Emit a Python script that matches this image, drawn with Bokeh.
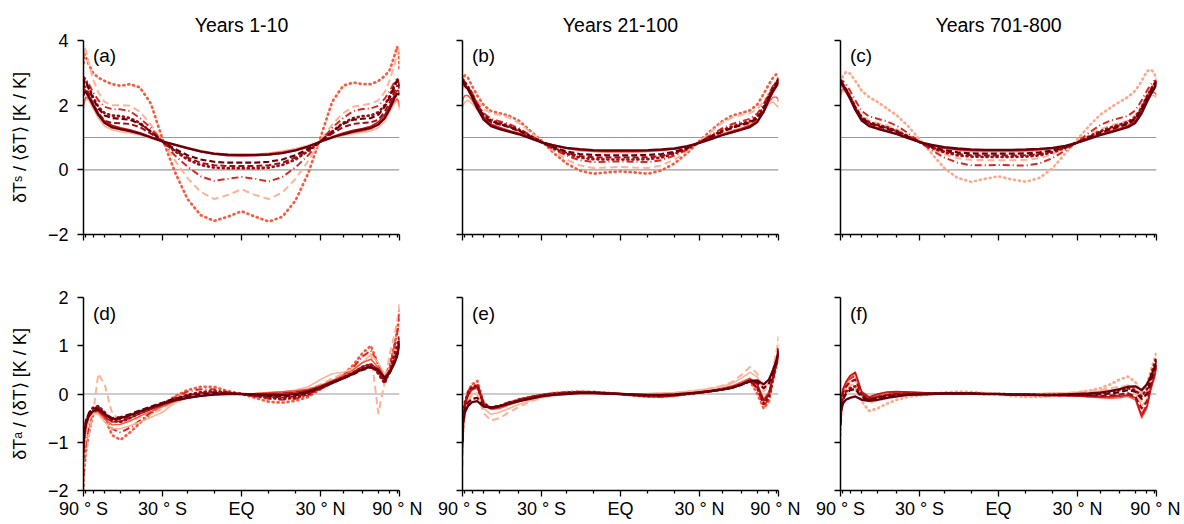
import numpy as np
from bokeh.plotting import figure
from bokeh.layouts import column, row
from bokeh.models import FixedTicker, Span, Label, CustomJSTickFormatter
from bokeh.embed import file_html
from bokeh.resources import INLINE

# ---------------- data ----------------
latitude = list(range(-90, 91, 5))
x_major_lat = [-90, -30, 0, 30, 90]
x_major_labels = ["90 ° S", "30 ° S", "EQ", "30 ° N", "90 ° N"]
x_minor_lat = [-80, -70, -60, -50, -40, -20, -10, 10, 20, 40, 50, 60, 70, 80]
top_yticks = [-2, 0, 2, 4]
bottom_yticks = [-2, -1, 0, 1, 2]
column_titles = ["Years 1-10", "Years 21-100", "Years 701-800"]
panel_letters = ["(a)", "(b)", "(c)", "(d)", "(e)", "(f)"]
surface_label = "δTˢ / ⟨δT⟩ [K / K]"
atmos_label = "δTᵃ / ⟨δT⟩ [K / K]"

# surface warming pattern, years 1-10 (10 runs)
ts_years_1_10 = [
    [2.3,2.4,2.4,2.25,2.0,1.7,1.45,1.32,1.26,1.2,1.12,1.0,0.88,0.78,0.67,0.57,0.5,0.47,0.46,0.46,0.48,0.52,0.6,0.72,0.87,1.0,1.1,1.18,1.24,1.3,1.4,1.6,1.9,2.2,2.35,2.35,2.3],
    [2.4,2.5,2.45,2.3,2.05,1.75,1.5,1.38,1.3,1.24,1.15,1.02,0.88,0.77,0.66,0.56,0.48,0.44,0.43,0.44,0.46,0.52,0.6,0.73,0.88,1.02,1.14,1.22,1.28,1.35,1.48,1.7,2.0,2.3,2.45,2.45,2.35],
    [2.0,2.1,2.25,2.2,2.0,1.7,1.45,1.3,1.24,1.2,1.12,1.0,0.87,0.77,0.68,0.58,0.5,0.46,0.45,0.46,0.5,0.55,0.62,0.73,0.87,1.0,1.1,1.16,1.2,1.26,1.38,1.6,1.9,2.1,2.2,2.1,1.95],
    [1.9,2.05,2.2,2.15,1.9,1.6,1.35,1.24,1.18,1.14,1.08,0.98,0.87,0.78,0.7,0.6,0.52,0.48,0.47,0.48,0.52,0.58,0.66,0.76,0.88,0.98,1.06,1.12,1.16,1.2,1.3,1.5,1.8,2.05,2.15,2.0,1.85],
    [2.6,2.75,2.7,2.5,2.2,1.9,1.68,1.6,1.58,1.55,1.42,1.18,0.88,0.65,0.45,0.32,0.25,0.22,0.22,0.22,0.25,0.32,0.45,0.65,0.88,1.18,1.42,1.55,1.58,1.6,1.7,1.95,2.25,2.55,2.75,2.7,2.6],
    [2.5,2.6,2.55,2.35,2.05,1.75,1.52,1.45,1.44,1.42,1.32,1.12,0.87,0.6,0.38,0.22,0.14,0.12,0.12,0.12,0.14,0.22,0.38,0.6,0.88,1.12,1.32,1.42,1.45,1.47,1.55,1.8,2.1,2.4,2.6,2.6,2.5],
    [2.7,2.85,2.75,2.55,2.25,1.95,1.75,1.68,1.66,1.6,1.45,1.18,0.87,0.58,0.32,0.15,0.07,0.05,0.05,0.05,0.07,0.15,0.32,0.58,0.88,1.18,1.45,1.6,1.66,1.68,1.78,2.0,2.3,2.6,2.8,2.75,2.6],
    [2.6,2.8,2.8,2.65,2.4,2.15,1.95,1.88,1.87,1.82,1.6,1.3,0.87,0.45,0.1,-0.2,-0.34,-0.28,-0.22,-0.28,-0.36,-0.22,0.08,0.45,0.88,1.3,1.6,1.82,1.88,1.9,1.98,2.2,2.45,2.7,2.8,2.7,2.5],
    [3.5,3.8,3.7,3.3,2.8,2.4,2.1,2.0,2.0,1.98,1.8,1.4,0.88,0.3,-0.25,-0.68,-0.9,-0.78,-0.6,-0.78,-0.9,-0.7,-0.28,0.28,0.9,1.4,1.75,1.95,2.0,2.05,2.15,2.4,2.8,3.2,3.6,3.7,3.9],
    [3.3,3.6,3.5,3.25,3.0,2.85,2.75,2.65,2.6,2.65,2.55,2.05,0.95,-0.05,-0.9,-1.4,-1.58,-1.45,-1.28,-1.45,-1.6,-1.45,-0.95,-0.1,1.0,2.1,2.6,2.7,2.65,2.65,2.75,2.9,3.1,3.5,3.8,3.6,3.1],
]

ts_years_21_100 = [
    [2.75,2.7,2.6,2.5,2.25,1.9,1.55,1.35,1.26,1.18,1.1,0.98,0.85,0.76,0.68,0.64,0.61,0.6,0.6,0.6,0.61,0.63,0.66,0.73,0.83,0.95,1.07,1.16,1.24,1.32,1.48,1.8,2.2,2.45,2.6,2.68,2.7],
    [2.7,2.72,2.62,2.5,2.28,1.95,1.6,1.4,1.3,1.2,1.12,0.99,0.85,0.76,0.67,0.62,0.59,0.58,0.58,0.58,0.59,0.61,0.65,0.72,0.83,0.96,1.08,1.18,1.27,1.36,1.5,1.78,2.15,2.4,2.55,2.62,2.62],
    [2.1,2.2,2.3,2.3,2.15,1.9,1.6,1.42,1.32,1.22,1.13,1.0,0.86,0.76,0.66,0.6,0.57,0.56,0.56,0.56,0.57,0.6,0.64,0.71,0.84,0.98,1.1,1.2,1.28,1.38,1.52,1.8,2.1,2.25,2.25,2.2,2.1],
    [1.95,2.0,2.1,2.15,2.05,1.85,1.58,1.4,1.3,1.22,1.14,1.01,0.87,0.77,0.67,0.6,0.56,0.54,0.54,0.54,0.56,0.6,0.65,0.73,0.86,1.0,1.12,1.22,1.3,1.4,1.55,1.8,2.05,2.1,2.0,1.95,2.0],
    [2.8,2.75,2.65,2.52,2.3,1.98,1.66,1.5,1.42,1.33,1.22,1.04,0.86,0.7,0.57,0.49,0.46,0.45,0.45,0.45,0.46,0.49,0.56,0.68,0.85,1.02,1.18,1.3,1.4,1.47,1.6,1.9,2.25,2.5,2.65,2.75,2.78],
    [2.7,2.7,2.62,2.5,2.28,1.96,1.63,1.47,1.4,1.32,1.2,1.03,0.86,0.68,0.53,0.43,0.39,0.38,0.38,0.38,0.39,0.43,0.52,0.66,0.85,1.02,1.18,1.3,1.38,1.45,1.58,1.88,2.22,2.48,2.62,2.7,2.72],
    [2.8,2.78,2.7,2.58,2.35,2.02,1.7,1.53,1.45,1.36,1.24,1.06,0.86,0.66,0.5,0.38,0.33,0.32,0.32,0.32,0.33,0.38,0.5,0.66,0.85,1.04,1.22,1.34,1.43,1.5,1.65,1.95,2.3,2.55,2.7,2.78,2.8],
    [2.75,2.8,2.72,2.6,2.38,2.06,1.75,1.58,1.5,1.42,1.28,1.08,0.86,0.63,0.44,0.3,0.24,0.25,0.26,0.25,0.24,0.3,0.44,0.63,0.86,1.08,1.28,1.42,1.5,1.58,1.74,2.04,2.36,2.6,2.75,2.8,2.75],
    [2.5,2.55,2.55,2.5,2.38,2.15,1.88,1.75,1.7,1.62,1.45,1.18,0.88,0.58,0.32,0.14,0.06,0.07,0.09,0.07,0.06,0.14,0.32,0.58,0.88,1.18,1.45,1.62,1.7,1.75,1.88,2.12,2.35,2.5,2.55,2.55,2.5],
    [2.6,2.85,2.92,2.85,2.6,2.3,2.0,1.82,1.75,1.68,1.52,1.22,0.9,0.52,0.2,-0.02,-0.12,-0.08,-0.05,-0.08,-0.12,-0.02,0.2,0.52,0.9,1.22,1.5,1.68,1.76,1.84,2.02,2.35,2.65,2.85,2.95,2.85,2.65],
]

ts_years_701_800 = [
    [2.75,2.7,2.6,2.45,2.2,1.85,1.52,1.35,1.27,1.19,1.1,0.98,0.86,0.77,0.7,0.66,0.63,0.62,0.62,0.62,0.63,0.65,0.68,0.74,0.84,0.96,1.07,1.16,1.24,1.32,1.45,1.75,2.1,2.35,2.5,2.6,2.7],
    [2.6,2.65,2.58,2.45,2.22,1.88,1.55,1.38,1.29,1.2,1.11,0.99,0.86,0.76,0.68,0.63,0.61,0.6,0.6,0.6,0.61,0.63,0.67,0.73,0.84,0.97,1.08,1.18,1.26,1.35,1.5,1.8,2.15,2.4,2.55,2.62,2.62],
    [2.3,2.45,2.5,2.42,2.2,1.88,1.56,1.39,1.3,1.21,1.12,1.0,0.86,0.75,0.67,0.62,0.59,0.58,0.58,0.58,0.59,0.62,0.66,0.72,0.84,0.98,1.1,1.2,1.28,1.37,1.52,1.82,2.15,2.35,2.4,2.35,2.3],
    [2.2,2.35,2.45,2.4,2.2,1.88,1.56,1.4,1.31,1.22,1.13,1.0,0.86,0.75,0.66,0.6,0.57,0.56,0.56,0.56,0.57,0.6,0.65,0.72,0.85,0.99,1.11,1.21,1.29,1.38,1.54,1.85,2.15,2.3,2.3,2.25,2.25],
    [2.8,2.75,2.65,2.5,2.26,1.92,1.6,1.44,1.36,1.27,1.17,1.02,0.86,0.72,0.61,0.54,0.51,0.5,0.5,0.5,0.51,0.54,0.6,0.7,0.85,1.0,1.14,1.25,1.34,1.42,1.58,1.88,2.22,2.45,2.6,2.7,2.75],
    [2.7,2.7,2.62,2.48,2.25,1.92,1.6,1.45,1.38,1.3,1.19,1.03,0.86,0.7,0.57,0.49,0.45,0.44,0.44,0.44,0.45,0.49,0.57,0.69,0.85,1.02,1.17,1.28,1.37,1.45,1.6,1.9,2.24,2.48,2.62,2.7,2.72],
    [2.75,2.72,2.64,2.5,2.27,1.94,1.62,1.47,1.4,1.32,1.2,1.04,0.86,0.68,0.54,0.45,0.41,0.4,0.4,0.4,0.41,0.45,0.54,0.68,0.85,1.03,1.19,1.31,1.4,1.48,1.63,1.93,2.27,2.5,2.65,2.72,2.75],
    [2.65,2.75,2.75,2.65,2.45,2.15,1.82,1.65,1.58,1.5,1.36,1.14,0.87,0.6,0.38,0.22,0.14,0.14,0.15,0.14,0.13,0.2,0.36,0.6,0.87,1.15,1.38,1.52,1.6,1.67,1.84,2.15,2.45,2.65,2.75,2.75,2.65],
    [2.7,2.72,2.66,2.54,2.32,2.0,1.68,1.52,1.45,1.37,1.25,1.07,0.86,0.65,0.48,0.36,0.31,0.3,0.3,0.3,0.31,0.36,0.48,0.65,0.86,1.07,1.25,1.37,1.45,1.52,1.68,2.0,2.32,2.54,2.66,2.72,2.7],
    [2.4,2.7,2.9,3.02,2.98,2.75,2.45,2.25,2.1,1.9,1.68,1.36,0.95,0.5,0.05,-0.25,-0.37,-0.28,-0.2,-0.3,-0.37,-0.25,0.05,0.5,0.95,1.36,1.7,1.92,2.1,2.25,2.45,2.75,3.05,3.1,3.0,2.85,2.7],
]

# atmospheric warming pattern
ta_years_1_10 = [
    [-1.1,-0.85,-0.6,-0.45,-0.35,-0.32,-0.42,-0.52,-0.5,-0.44,-0.36,-0.28,-0.2,-0.13,-0.08,-0.04,-0.01,0.0,0.0,-0.01,-0.02,-0.02,0.0,0.05,0.14,0.24,0.33,0.42,0.52,0.56,0.5,0.33,0.45,0.62,0.78,0.95,1.1],
    [-1.2,-0.95,-0.65,-0.46,-0.35,-0.35,-0.47,-0.58,-0.57,-0.5,-0.41,-0.32,-0.23,-0.14,-0.08,-0.04,-0.01,0.0,0.0,0.0,0.01,0.02,0.04,0.08,0.16,0.26,0.35,0.45,0.57,0.62,0.52,0.34,0.48,0.66,0.82,0.96,1.1],
    [-1.3,-1.0,-0.7,-0.48,-0.36,-0.38,-0.52,-0.64,-0.63,-0.56,-0.46,-0.36,-0.26,-0.15,-0.08,-0.04,-0.01,0.0,0.0,0.01,0.03,0.05,0.07,0.1,0.18,0.28,0.38,0.5,0.65,0.72,0.55,0.35,0.52,0.72,0.88,1.0,1.1],
    [-1.5,-1.2,-0.85,-0.55,-0.4,-0.42,-0.58,-0.72,-0.72,-0.66,-0.58,-0.48,-0.38,-0.18,-0.09,-0.04,-0.01,0.0,0.0,0.01,0.02,0.04,0.08,0.15,0.3,0.42,0.45,0.52,0.65,0.82,0.65,0.4,0.55,0.75,0.92,1.05,1.15],
    [-1.0,-0.8,-0.55,-0.4,-0.3,-0.3,-0.4,-0.5,-0.48,-0.42,-0.34,-0.26,-0.18,-0.1,-0.04,0.0,0.02,0.01,0.0,-0.02,-0.04,-0.05,-0.03,0.03,0.13,0.23,0.32,0.41,0.5,0.55,0.48,0.3,0.45,0.65,0.82,0.98,1.12],
    [-1.2,-0.9,-0.6,-0.42,-0.3,-0.28,-0.4,-0.53,-0.53,-0.46,-0.37,-0.28,-0.19,-0.1,-0.03,0.02,0.04,0.02,0.0,-0.03,-0.06,-0.07,-0.05,0.02,0.12,0.22,0.32,0.42,0.52,0.58,0.45,0.25,0.45,0.7,0.9,1.05,1.15],
    [-1.3,-0.9,-0.6,-0.4,-0.28,-0.25,-0.38,-0.55,-0.58,-0.5,-0.4,-0.3,-0.2,-0.1,-0.02,0.04,0.06,0.03,0.0,-0.04,-0.08,-0.1,-0.08,0.0,0.12,0.23,0.34,0.45,0.56,0.62,0.42,0.22,0.5,0.8,1.0,1.15,1.25],
    [-1.7,-1.4,-1.0,-0.65,-0.35,-0.25,-0.45,-0.72,-0.8,-0.7,-0.55,-0.38,-0.22,-0.07,0.05,0.1,0.1,0.04,0.0,-0.05,-0.1,-0.12,-0.1,-0.03,0.1,0.24,0.38,0.55,0.78,0.9,0.62,0.35,0.6,0.95,1.25,1.5,1.7],
    [-1.8,-1.5,-1.2,-0.85,-0.4,0.42,0.2,-0.4,-0.55,-0.55,-0.48,-0.42,-0.3,-0.15,-0.05,0.02,0.03,0.02,0.0,0.0,0.02,0.04,0.06,0.1,0.2,0.32,0.42,0.55,0.78,0.85,-0.4,0.25,0.85,1.2,1.5,1.75,1.9],
    [-1.9,-1.6,-1.2,-0.8,-0.45,-0.25,-0.5,-0.85,-0.95,-0.8,-0.6,-0.4,-0.22,-0.05,0.08,0.15,0.15,0.06,0.0,-0.08,-0.16,-0.18,-0.14,-0.06,0.1,0.25,0.4,0.6,0.85,1.0,0.6,0.3,0.6,1.0,1.3,1.55,1.75],
]

ta_years_21_100 = [
    [-1.0,-0.6,-0.38,-0.25,-0.17,-0.15,-0.26,-0.28,-0.25,-0.2,-0.15,-0.1,-0.05,-0.02,0.0,0.02,0.02,0.01,0.0,-0.01,-0.02,-0.02,-0.01,0.01,0.03,0.06,0.09,0.13,0.2,0.27,0.28,0.2,0.3,0.5,0.68,0.82,0.95],
    [-1.05,-0.55,-0.25,-0.02,0.12,0.18,-0.22,-0.3,-0.27,-0.2,-0.14,-0.08,-0.04,-0.01,0.01,0.02,0.02,0.01,0.0,-0.01,-0.02,-0.02,-0.01,0.01,0.04,0.07,0.1,0.15,0.22,0.3,0.2,-0.15,0.0,0.38,0.6,0.75,0.88],
    [-1.1,-0.6,-0.3,-0.05,0.08,0.12,-0.22,-0.32,-0.3,-0.23,-0.16,-0.1,-0.05,-0.02,0.0,0.01,0.01,0.0,0.0,0.0,-0.01,-0.01,0.0,0.02,0.05,0.08,0.12,0.17,0.25,0.33,0.2,-0.1,0.05,0.4,0.62,0.78,0.9],
    [-1.3,-0.75,-0.4,-0.15,0.0,0.02,-0.3,-0.42,-0.38,-0.3,-0.22,-0.14,-0.07,-0.03,0.0,0.01,0.01,0.0,0.0,0.0,0.01,0.02,0.03,0.05,0.08,0.12,0.16,0.22,0.33,0.45,0.35,0.1,0.25,0.5,0.75,0.92,1.05],
    [-0.95,-0.55,-0.32,-0.18,-0.1,-0.08,-0.24,-0.28,-0.25,-0.2,-0.14,-0.09,-0.04,-0.01,0.01,0.03,0.03,0.01,0.0,-0.02,-0.03,-0.03,-0.02,0.0,0.03,0.06,0.09,0.13,0.19,0.26,0.24,0.12,0.22,0.45,0.65,0.8,0.92],
    [-1.0,-0.5,-0.22,-0.02,0.1,0.15,-0.22,-0.3,-0.27,-0.2,-0.14,-0.08,-0.03,0.0,0.02,0.03,0.03,0.01,0.0,-0.02,-0.04,-0.04,-0.02,0.0,0.03,0.06,0.09,0.13,0.2,0.27,0.15,-0.15,0.0,0.35,0.6,0.78,0.9],
    [-0.9,-0.45,-0.18,0.02,0.14,0.18,-0.2,-0.28,-0.25,-0.18,-0.12,-0.07,-0.02,0.01,0.03,0.04,0.04,0.02,0.0,-0.03,-0.05,-0.05,-0.03,0.0,0.03,0.06,0.1,0.14,0.2,0.28,0.12,-0.2,-0.05,0.35,0.62,0.8,0.92],
    [-1.1,-0.55,-0.2,0.05,0.18,0.22,-0.2,-0.28,-0.24,-0.17,-0.11,-0.06,-0.02,0.01,0.03,0.04,0.03,0.02,0.0,-0.02,-0.04,-0.05,-0.03,0.0,0.03,0.06,0.09,0.13,0.2,0.27,0.12,-0.25,-0.1,0.3,0.55,0.7,0.8],
    [-1.5,-0.8,-0.45,-0.2,-0.02,0.0,-0.4,-0.55,-0.5,-0.38,-0.27,-0.16,-0.08,-0.03,0.0,0.01,0.01,0.0,0.0,0.0,0.0,0.01,0.02,0.05,0.08,0.12,0.17,0.25,0.4,0.56,0.42,0.05,0.2,0.55,0.85,1.05,1.2],
    [-1.2,-0.6,-0.25,0.05,0.2,0.27,-0.18,-0.3,-0.26,-0.18,-0.12,-0.06,-0.02,0.02,0.04,0.05,0.04,0.02,0.0,-0.03,-0.05,-0.06,-0.04,0.0,0.03,0.06,0.1,0.14,0.2,0.28,0.0,-0.3,-0.15,0.3,0.55,0.75,0.85],
]

ta_years_701_800 = [
    [-0.6,-0.35,-0.2,-0.12,-0.08,-0.05,-0.12,-0.14,-0.12,-0.08,-0.05,-0.02,-0.01,0.0,0.01,0.01,0.01,0.0,0.0,-0.01,-0.01,-0.02,-0.02,-0.01,0.0,0.01,0.03,0.06,0.1,0.15,0.16,0.08,0.2,0.38,0.52,0.62,0.68],
    [-0.5,-0.1,0.1,0.25,0.38,0.45,0.05,-0.06,0.0,0.04,0.05,0.04,0.03,0.02,0.02,0.01,0.01,0.0,0.0,-0.01,-0.02,-0.03,-0.03,-0.03,-0.04,-0.05,-0.06,-0.06,-0.05,-0.02,-0.08,-0.45,-0.25,0.15,0.35,0.5,0.6],
    [-0.55,-0.15,0.08,0.2,0.35,0.42,0.02,-0.08,-0.03,0.02,0.04,0.04,0.03,0.02,0.02,0.01,0.01,0.0,0.0,-0.01,-0.02,-0.02,-0.03,-0.03,-0.04,-0.06,-0.08,-0.09,-0.08,-0.05,-0.12,-0.5,-0.3,0.1,0.3,0.45,0.55],
    [-0.7,-0.25,0.0,0.12,0.25,0.28,-0.02,-0.12,-0.08,-0.04,-0.02,0.0,0.0,0.01,0.01,0.01,0.0,0.0,0.0,0.0,0.0,0.01,0.02,0.02,0.03,0.04,0.06,0.08,0.1,0.12,0.05,-0.25,-0.1,0.25,0.45,0.55,0.62],
    [-0.65,-0.3,-0.12,0.0,0.08,0.1,-0.06,-0.12,-0.08,-0.04,-0.02,0.0,0.0,0.01,0.01,0.01,0.01,0.0,0.0,-0.01,-0.01,-0.02,-0.02,-0.02,-0.02,-0.02,-0.01,0.01,0.04,0.08,0.05,-0.1,0.0,0.3,0.5,0.62,0.72],
    [-0.6,-0.2,0.02,0.15,0.25,0.3,0.0,-0.1,-0.06,-0.02,0.0,0.01,0.01,0.01,0.01,0.01,0.01,0.0,0.0,-0.01,-0.01,-0.02,-0.02,-0.03,-0.03,-0.04,-0.04,-0.03,-0.01,0.02,-0.05,-0.3,-0.15,0.2,0.4,0.55,0.65],
    [-0.55,-0.25,-0.06,0.05,0.12,0.16,-0.02,-0.1,-0.07,-0.03,-0.01,0.0,0.01,0.01,0.01,0.01,0.01,0.0,0.0,-0.01,-0.02,-0.02,-0.02,-0.02,-0.01,0.0,0.02,0.05,0.08,0.12,0.08,-0.05,0.1,0.4,0.6,0.72,0.78],
    [-0.55,-0.15,0.06,0.2,0.32,0.38,0.02,-0.08,-0.03,0.01,0.03,0.03,0.02,0.02,0.02,0.01,0.01,0.0,0.0,-0.01,-0.02,-0.03,-0.03,-0.03,-0.04,-0.05,-0.06,-0.05,-0.03,0.0,-0.1,-0.42,-0.22,0.18,0.38,0.52,0.62],
    [-0.75,-0.3,-0.05,0.08,0.18,0.2,-0.05,-0.18,-0.14,-0.09,-0.05,-0.03,-0.01,0.0,0.01,0.02,0.02,0.01,0.0,-0.01,-0.01,0.0,0.01,0.02,0.04,0.06,0.09,0.12,0.15,0.18,0.1,-0.15,0.0,0.3,0.5,0.62,0.7],
    [-0.85,-0.4,-0.12,0.02,0.1,0.12,-0.15,-0.35,-0.3,-0.2,-0.12,-0.06,-0.03,0.0,0.03,0.05,0.04,0.02,0.0,-0.04,-0.06,-0.06,-0.04,-0.01,0.03,0.07,0.12,0.2,0.3,0.36,0.25,0.0,0.2,0.5,0.7,0.82,0.88],
]

# ---------------- styles ----------------
FONT = "Liberation Sans"
series_colors = ["#67000d", "#c4161c", "#f4573e", "#fcb398", "#67000d",
                 "#9e0d14", "#9e0d14", "#d92723", "#fcb398", "#f75c41"]
series_dash = ["solid", "solid", "solid", "solid", "6 3",
               "6 3", "1 4", "7 3 1 3", "7 4", "1 4"]
series_width = [2.3, 1.6, 1.4, 1.6, 2.2, 2.0, 2.7, 2.0, 2.0, 2.7]
outer_dotted_colors = ["#f75c41", "#f75c41", "#fca98d", "#f75c41", "#f75c41", "#fca98d"]
draw_order = [9, 8, 7, 3, 2, 1, 6, 5, 4, 0]

x = np.sin(np.radians(latitude))
x_major = [float(np.round(np.sin(np.radians(v)), 10)) for v in x_major_lat]
x_minor = [float(np.sin(np.radians(v))) for v in x_minor_lat]

xfmt_code = """
for (let i = 0; i < major_pos.length; i++) {
  if (Math.abs(tick - major_pos[i]) < 1e-6) { return major_txt[i]; }
}
return "";
"""
yfmt_code = "return tick < 0 ? '\u2212' + Math.abs(tick) : '' + tick;"

panels = [ts_years_1_10, ts_years_21_100, ts_years_701_800,
          ta_years_1_10, ta_years_21_100, ta_years_701_800]

LEFT = [83, 40, 40]
RIGHT = [23, 22, 24]
FRAME_W = 316


def make_panel(idx):
    col = idx % 3
    is_top = idx < 3
    data = panels[idx]
    for s in data:
        assert len(s) == len(latitude)
    top = 40 if is_top else 39
    bottom = 24 if is_top else 29
    fh = 194 if is_top else 195
    yr = (-2, 4) if is_top else (-2, 2)
    p = figure(width=LEFT[col] + FRAME_W + RIGHT[col], height=top + fh + bottom,
               x_range=(-1, 1), y_range=yr, output_backend="svg",
               toolbar_location=None,
               min_border_left=LEFT[col], min_border_right=RIGHT[col],
               min_border_top=top, min_border_bottom=bottom)
    p.xgrid.visible = False
    p.ygrid.visible = False
    p.outline_line_color = None
    p.background_fill_color = "white"
    p.border_fill_color = "white"

    if is_top:
        p.title.text = column_titles[col]
        p.title.align = "center"
        p.title.text_font = FONT
        p.title.text_font_size = "19.5px"
        p.title.text_font_style = "normal"
        p.title.text_color = "black"
        p.title.standoff = 10

    xa = p.xaxis[0]
    xa.ticker = FixedTicker(ticks=x_major, minor_ticks=x_minor)
    xa.formatter = CustomJSTickFormatter(args=dict(major_pos=x_major, major_txt=x_major_labels),
                                         code=xfmt_code)
    xa.axis_line_width = 1.5
    xa.axis_line_color = "black"
    xa.major_tick_line_width = 1.3
    xa.minor_tick_line_width = 1.3
    xa.major_tick_line_color = "black"
    xa.minor_tick_line_color = "black"
    xa.major_tick_out = 6
    xa.major_tick_in = 0
    xa.minor_tick_out = 3
    xa.minor_tick_in = 0
    xa.major_label_text_font = FONT
    xa.major_label_standoff = 2
    xa.major_label_text_font_size = "18px"
    xa.major_label_text_color = None if is_top else "black"

    ya = p.yaxis[0]
    ya.ticker = FixedTicker(ticks=top_yticks if is_top else bottom_yticks, minor_ticks=[])
    ya.formatter = CustomJSTickFormatter(code=yfmt_code)
    ya.axis_line_width = 1.5
    ya.axis_line_color = "black"
    ya.major_tick_line_width = 1.3
    ya.major_tick_line_color = "black"
    ya.minor_tick_line_color = None
    ya.major_tick_out = 6
    ya.major_tick_in = 0
    ya.major_label_text_font = FONT
    ya.major_label_standoff = 9
    ya.major_label_text_font_size = "18px"
    if col == 0:
        ya.major_label_text_color = "black"
        ya.axis_label = surface_label if is_top else atmos_label
        ya.axis_label_text_font = FONT
        ya.axis_label_text_font_size = "18px"
        ya.axis_label_text_font_style = "normal"
        ya.axis_label_text_color = "black"
        ya.axis_label_standoff = 15
    else:
        ya.major_label_text_color = None

    p.add_layout(Span(location=0, dimension="width", line_color="#9a9a9a",
                      line_width=1.2, level="underlay"))
    if is_top:
        p.add_layout(Span(location=1, dimension="width", line_color="#9a9a9a",
                          line_width=1.2, level="underlay"))

    for k in draw_order:
        color = outer_dotted_colors[idx] if k == 9 else series_colors[k]
        dotted = series_dash[k] == "1 4"
        p.line(x, data[k], line_color=color, line_width=series_width[k],
               line_dash=series_dash[k], line_cap="round" if dotted else "butt",
               line_join="round")

    ylab = 3.86 if is_top else 1.89
    p.add_layout(Label(x=-0.94, y=ylab, text=panel_letters[idx], text_font=FONT,
                       text_font_size="19px", text_baseline="top", text_color="black"))
    return p


figs = [make_panel(i) for i in range(6)]
layout = column(row(figs[0], figs[1], figs[2]), row(figs[3], figs[4], figs[5]))

with open("out.html", "w") as f:
    f.write(file_html(layout, INLINE))
